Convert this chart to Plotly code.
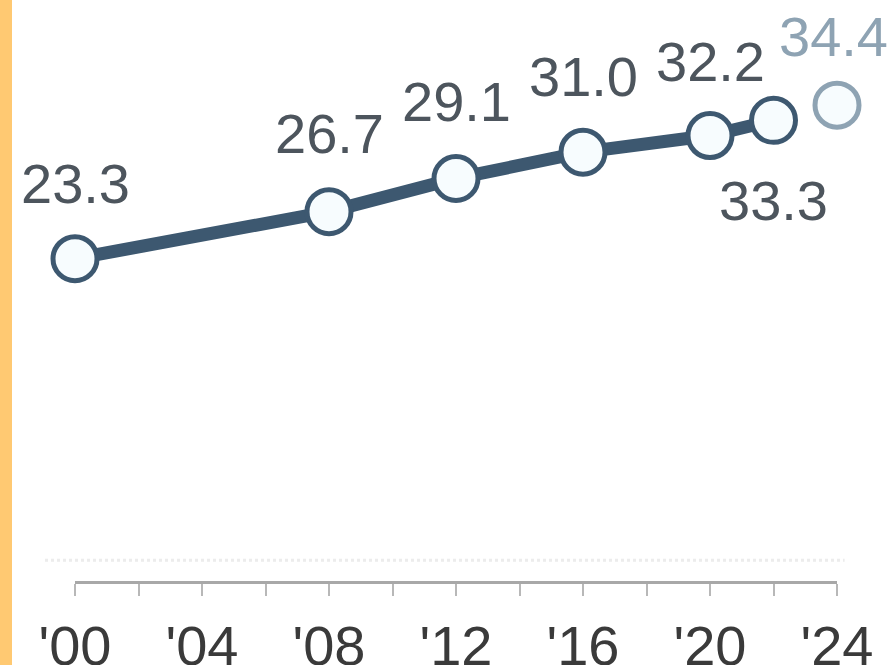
import plotly.graph_objects as go

years = [2000, 2008, 2012, 2016, 2020, 2022]
values = [23.3, 26.7, 29.1, 31.0, 32.2, 33.3]
label_shift = [75, 78, 77, 76, 74, -80]
proj_year = [2024]
proj_value = [34.4]
tick_years = list(range(2000, 2025, 2))
tick_labels = ["'00", "", "'04", "", "'08", "", "'12", "", "'16", "", "'20", "", "'24"]

LINE = "#3d5870"
TEXT = "#4d555d"
PROJ = "#8ea3b3"
FONT = "Liberation Sans, Arial, sans-serif"

fig = go.Figure()
fig.add_trace(go.Scatter(
    x=years, y=values, mode="lines+markers",
    line=dict(color=LINE, width=13),
    marker=dict(size=44, color="#f7fcfe", line=dict(color=LINE, width=5)),
    cliponaxis=False, hoverinfo="skip", showlegend=False))
fig.add_trace(go.Scatter(
    x=proj_year, y=proj_value, mode="markers",
    marker=dict(size=44, color="#f7fcfe", line=dict(color=PROJ, width=5)),
    cliponaxis=False, hoverinfo="skip", showlegend=False))

for x, y, s in zip(years, values, label_shift):
    fig.add_annotation(x=x, y=y, text=f"{y:.1f}", showarrow=False, yshift=s,
                       font=dict(size=56, color=TEXT, family=FONT))
for x, y in zip(proj_year, proj_value):
    fig.add_annotation(x=x, y=y, text=f"{y:.1f}", showarrow=False, yshift=69, xshift=-4,
                       font=dict(size=56, color=PROJ, family=FONT))

# orange side bar
fig.add_shape(type="rect", xref="paper", yref="paper", x0=-75/762, x1=-63/762, y0=-1, y1=2,
              fillcolor="#ffc972", line_width=0, layer="below")
# faint dotted guide
fig.add_shape(type="line", xref="paper", yref="y", x0=-30/762, x1=1.01, y0=1.5, y1=1.5,
              line=dict(color="#ececec", width=3, dash="dot"), layer="below")

fig.update_layout(
    width=887, height=665,
    margin=dict(l=75, r=50, t=0, b=84, autoexpand=False),
    paper_bgcolor="white", plot_bgcolor="white",
    xaxis=dict(range=[2000, 2024], tickvals=tick_years, ticktext=tick_labels, automargin=False,
               showgrid=False, zeroline=False, showline=True, linecolor="#a8a8a8", linewidth=3,
               ticks="outside", ticklen=12, tickwidth=2, tickcolor="#b8b8b8",
               tickfont=dict(size=56, color="#3a3a3a", family=FONT), ticklabelstandoff=2),
    yaxis=dict(range=[0, 42], visible=False, showgrid=False, zeroline=False, automargin=False),
)
fig.write_html("out.html", config={"displayModeBar": False},
               post_script="document.body.style.margin='0';document.body.style.overflow='hidden';")
